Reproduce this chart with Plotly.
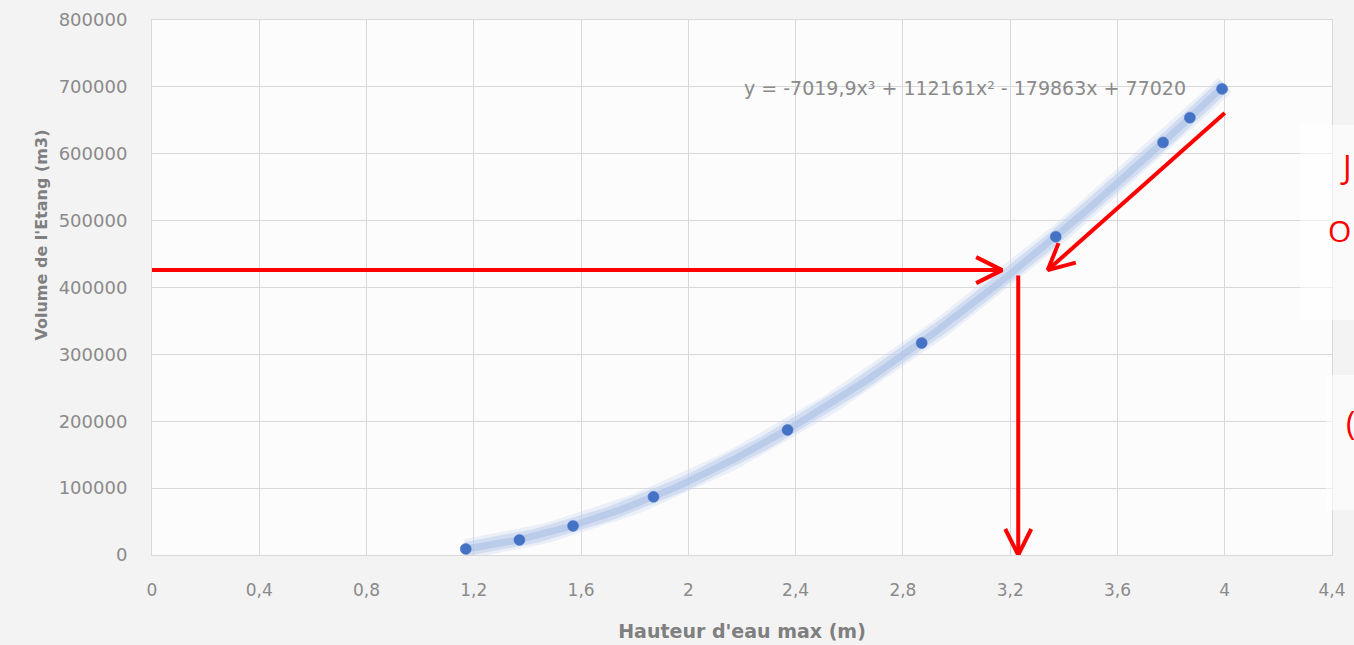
import numpy as np
import plotly.graph_objects as go

# données
hauteur = [1.17, 1.37, 1.57, 1.87, 2.37, 2.87, 3.37, 3.77, 3.87, 3.99]
volume = [9000, 22500, 43500, 87000, 187000, 317000, 476000, 617000, 654000, 697000]

# courbe de tendance polynomiale (ordre 3) affichée
coefs = [-7019.9, 112161, -179863, 77020]
equation = "y = -7019,9x³ + 112161x² - 179863x + 77020"

x_ticks = [0, 0.4, 0.8, 1.2, 1.6, 2, 2.4, 2.8, 3.2, 3.6, 4, 4.4]
y_ticks = [0, 100000, 200000, 300000, 400000, 500000, 600000, 700000, 800000]

# flèches rouges : (x départ, y départ, x arrivée, y arrivée)
fleches = [
    (0, 426000, 3.17, 426000),
    (3.23, 418000, 3.23, 0),
    (4.0, 661000, 3.34, 426000),
]

# textes rouges coupés à droite
textes_rouges = ["J", "O", "("]

L, R, T, B = 152, 22, 20, 90
W, H = 1354, 645
kx = (W - L - R) / 4.4
ky = (H - T - B) / 800000

fig = go.Figure()

xc = np.linspace(hauteur[0], 4.0, 200)
yc = np.polyval(coefs, xc)
for w, c in [(20, "rgba(200,215,240,0.35)"), (14, "rgba(185,203,235,0.5)"), (7, "rgba(168,190,228,0.55)")]:
    fig.add_trace(go.Scatter(x=xc, y=yc, mode="lines", line=dict(color=c, width=w),
                             hoverinfo="skip", showlegend=False))

fig.add_trace(go.Scatter(x=hauteur, y=volume, mode="markers",
                         marker=dict(color="#4472c4", size=11, line=dict(width=1, color="rgba(68,114,196,0.5)")),
                         showlegend=False))

for x0, y0, x1, y1 in fleches:
    dx, dy = (x1 - x0) * kx, (y1 - y0) * ky
    n = (dx ** 2 + dy ** 2) ** 0.5
    ux, uy = dx / n, dy / n
    hl, hw = 26, 13
    p1 = (x1 + (-hl * ux - hw * uy) / kx, y1 + (-hl * uy + hw * ux) / ky)
    p2 = (x1 + (-hl * ux + hw * uy) / kx, y1 + (-hl * uy - hw * ux) / ky)
    fig.add_trace(go.Scatter(x=[x0, x1, None, p1[0], x1, p2[0]],
                             y=[y0, y1, None, p1[1], y1, p2[1]],
                             mode="lines", line=dict(color="#ff0000", width=4),
                             cliponaxis=False, hoverinfo="skip", showlegend=False))

fig.add_annotation(x=3.03, y=698000, text=equation, showarrow=False,
                   font=dict(family="DejaVu Sans", size=19, color="#8a8a8a"))


def xp(px):
    return (px - L) / (W - L - R)


def yp(py):
    return (H - B - py) / (H - T - B)


fig.add_shape(type="rect", xref="paper", yref="paper", x0=xp(1300), x1=xp(1360), y0=yp(320), y1=yp(125),
              fillcolor="rgba(255,255,255,0.55)", line=dict(width=0), layer="above")
fig.add_shape(type="rect", xref="paper", yref="paper", x0=xp(1326), x1=xp(1360), y0=yp(510), y1=yp(375),
              fillcolor="rgba(255,255,255,0.55)", line=dict(width=0), layer="above")

for t, px, py, s in zip(textes_rouges, [1338, 1326, 1344], [167, 231, 422], [32, 30, 32]):
    fig.add_annotation(x=xp(px), y=yp(py), xref="paper", yref="paper", text=t, showarrow=False,
                       xanchor="left", yanchor="middle",
                       font=dict(family="Open Sans", size=s, color="#ff0000"))

# titre de l'axe vertical (décalé vers le haut comme sur l'original)
fig.add_annotation(x=xp(29), y=yp(235), xref="paper", yref="paper", text="<b>Volume de l'Etang (m3)</b>",
                   textangle=-90, showarrow=False, font=dict(family="DejaVu Sans", size=16, color="#7f7f7f"))

fig.update_layout(
    width=W, height=H,
    margin=dict(l=L, r=R, t=T, b=B),
    paper_bgcolor="#f3f3f3",
    plot_bgcolor="#fcfcfc",
    separators=",.",
    showlegend=False,
    font=dict(family="DejaVu Sans", color="#8a8a8a"),
)

fig.update_xaxes(range=[0, 4.4], tickvals=x_ticks, showgrid=True, gridcolor="#d9d9d9", gridwidth=1,
                 zeroline=False, showline=True, linecolor="#d9d9d9", mirror=True, automargin=False,
                 ticks="", ticklabelstandoff=20, tickfont=dict(size=17, color="#8a8a8a"),
                 title=dict(text="<b>Hauteur d'eau max (m)</b>", font=dict(size=19, color="#7f7f7f"), standoff=25))
fig.update_yaxes(range=[0, 800000], tickvals=y_ticks, tickformat="d", showgrid=True, gridcolor="#d9d9d9",
                 gridwidth=1, zeroline=False, showline=True, linecolor="#d9d9d9", mirror=True, automargin=False,
                 ticks="", ticklabelstandoff=20, tickfont=dict(size=18, color="#8a8a8a"))

fig.write_html("out.html", config={"displayModeBar": False},
               post_script="document.body.style.margin='0';")
